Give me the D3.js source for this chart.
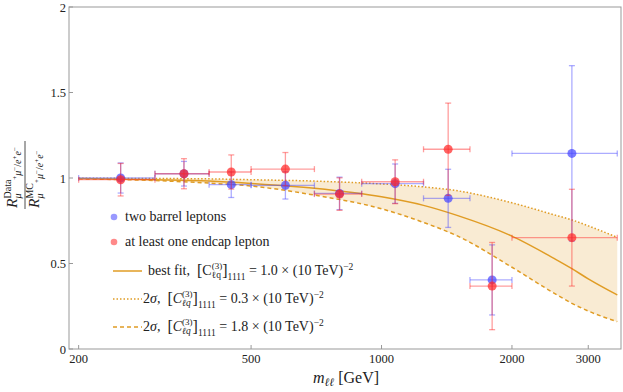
<!DOCTYPE html>
<html>
<head>
<meta charset="utf-8">
<script src="https://cdn.jsdelivr.net/npm/d3@7"></script>
<style>
  body { margin: 0; background: #fff; }
  svg text { font-family: "Liberation Serif", "Times New Roman", "DejaVu Serif", serif; fill: #222; white-space: pre; }
</style>
</head>
<body>
<div id="chart"></div>
<script>
// bins and points
var binLo = [200, 300, 400, 500, 700, 900, 1250, 1600, 2000];
var binHi = [300, 400, 500, 700, 900, 1250, 1600, 2000, 3500];
var mCenter = [250, 350, 450, 600, 800, 1075, 1425, 1800, 2750];

var barrelVal = [1.0, 1.025, 0.961, 0.957, 0.91, 0.967, 0.881, 0.404, 1.144];
var barrelErr = [0.088, 0.072, 0.075, 0.08, 0.095, 0.115, 0.17, 0.205, 0.513];
var endcapVal = [0.99, 1.025, 1.035, 1.052, 0.906, 0.978, 1.168, 0.368, 0.651];
var endcapErr = [0.095, 0.088, 0.1, 0.097, 0.095, 0.128, 0.27, 0.255, 0.283];

// fit curves
var curveM = [200, 300, 400, 500, 700, 1000, 1250, 1500, 2000, 2500, 2750, 3000, 3500];
var bestFit = [0.997, 0.99, 0.982, 0.968, 0.94, 0.89, 0.84, 0.78, 0.66, 0.53, 0.47, 0.41, 0.316];
var upper2s = [0.999, 0.997, 0.995, 0.99, 0.982, 0.965, 0.948, 0.925, 0.855, 0.785, 0.755, 0.72, 0.653];
var lower2s = [0.995, 0.985, 0.97, 0.953, 0.9, 0.82, 0.74, 0.66, 0.478, 0.327, 0.267, 0.222, 0.16];

var xTicks = [200, 500, 1000, 2000, 3000];
var yTicks = [0, 0.5, 1, 1.5, 2];

var width = 623, height = 392;
var pLeft = 69, pRight = 621, pTop = 7, pBottom = 349;
var serif = "Liberation Serif, Times New Roman, DejaVu Serif, serif";

var svg = d3.select("#chart").append("svg")
    .attr("width", width).attr("height", height)
    .attr("font-family", serif);

var x = d3.scaleLog().domain([190, 3570]).range([pLeft, pRight]);
var y = d3.scaleLinear().domain([0, 2]).range([pBottom, pTop]);

var orange = "#e09c24";
var blue = "rgb(70,70,255)";
var red = "rgb(255,40,40)";

// band
var band = d3.area()
    .x(function(d, k) { return x(curveM[k]); })
    .y0(function(d, k) { return y(lower2s[k]); })
    .y1(function(d, k) { return y(upper2s[k]); })
    .curve(d3.curveMonotoneX);
svg.append("path").datum(curveM).attr("d", band)
    .attr("fill", orange).attr("fill-opacity", 0.2);

function drawCurve(vals, dash) {
  var line = d3.line()
      .x(function(d, k) { return x(curveM[k]); })
      .y(function(d) { return y(d); })
      .curve(d3.curveMonotoneX);
  svg.append("path").datum(vals).attr("d", line)
      .attr("fill", "none").attr("stroke", orange)
      .attr("stroke-width", 1.5)
      .attr("stroke-dasharray", dash);
}
drawCurve(upper2s, "1.5,2");
drawCurve(lower2s, "4,3");
drawCurve(bestFit, null);

// error bars + points
function drawSeries(vals, errs, col) {
  var g = svg.append("g");
  var cap = 3;
  for (var t = 0; t < vals.length; t++) {
    var cx = x(mCenter[t]), cy = y(vals[t]);
    var x0 = x(binLo[t]), x1 = x(binHi[t]);
    var yh = y(vals[t] + errs[t]), yl = y(vals[t] - errs[t]);
    var eg = g.append("g").attr("stroke", col).attr("stroke-opacity", 0.45)
        .attr("stroke-width", 1.3);
    eg.append("line").attr("x1", x0).attr("x2", x1).attr("y1", cy).attr("y2", cy);
    eg.append("line").attr("x1", x0).attr("x2", x0).attr("y1", cy - cap).attr("y2", cy + cap);
    eg.append("line").attr("x1", x1).attr("x2", x1).attr("y1", cy - cap).attr("y2", cy + cap);
    eg.append("line").attr("x1", cx).attr("x2", cx).attr("y1", yh).attr("y2", yl);
    eg.append("line").attr("x1", cx - cap).attr("x2", cx + cap).attr("y1", yh).attr("y2", yh);
    eg.append("line").attr("x1", cx - cap).attr("x2", cx + cap).attr("y1", yl).attr("y2", yl);
    g.append("circle").attr("cx", cx).attr("cy", cy).attr("r", 4.5)
        .attr("fill", col).attr("fill-opacity", 0.72);
  }
}
drawSeries(barrelVal, barrelErr, blue);
drawSeries(endcapVal, endcapErr, red);

// frame
svg.append("rect").attr("x", pLeft).attr("y", pTop)
    .attr("width", pRight - pLeft).attr("height", pBottom - pTop)
    .attr("fill", "none").attr("stroke", "#999").attr("stroke-width", 1);

xTicks.forEach(function(v) {
  svg.append("line").attr("x1", x(v)).attr("x2", x(v))
      .attr("y1", pBottom).attr("y2", pBottom - 4).attr("stroke", "#999");
  svg.append("text").attr("x", x(v)).attr("y", pBottom + 14)
      .attr("text-anchor", "middle").attr("font-size", 12.5).text(v);
});
yTicks.forEach(function(v) {
  svg.append("line").attr("x1", pLeft).attr("x2", pLeft + 4)
      .attr("y1", y(v)).attr("y2", y(v)).attr("stroke", "#999");
  svg.append("text").attr("x", pLeft - 3).attr("y", y(v) + 4.5)
      .attr("text-anchor", "end").attr("font-size", 12.5).text(v);
});

// text made of pieces (sub/superscripts)
function mathText(g, x0, y0, segs) {
  var cx = x0, held = 0;
  segs.forEach(function(s) {
    var t = g.append("text").attr("x", cx).attr("y", y0 + (s.dy || 0))
        .attr("font-size", s.size || 13)
        .attr("font-style", s.it ? "italic" : "normal")
        .text(s.t);
    var w = t.node().getComputedTextLength();
    if (s.hold) { held = w; }
    else { cx += Math.max(w, held); held = 0; }
  });
  return cx;
}

// x label
mathText(svg, 313, 383, [
  {t: "m", it: true, size: 16},
  {t: "ℓℓ", it: true, size: 11.5, dy: 3},
  {t: " [GeV]", size: 16}
]);

// y label fraction
var ylab = svg.append("g").attr("transform", "translate(25,175) rotate(-90)");
var sub = [
  {t: "μ", it: true, size: 10, dy: 4},
  {t: "+", size: 7, dy: 0},
  {t: "μ", it: true, size: 10, dy: 4},
  {t: "−", size: 7, dy: 0},
  {t: "/", size: 10, dy: 4},
  {t: "e", it: true, size: 10, dy: 4},
  {t: "+", size: 7, dy: 0},
  {t: "e", it: true, size: 10, dy: 4},
  {t: "−", size: 7, dy: 0}
];
function fracRow(sup) {
  var segs = [{t: "R", it: true, size: 15.5}, {t: sup, size: 10, dy: -6, hold: true}];
  sub.forEach(function(s) { segs.push({t: s.t, it: s.it, size: s.size, dy: s.dy}); });
  return segs;
}
mathText(ylab, -33, -8, fracRow("Data"));
mathText(ylab, -33, 14, fracRow("MC"));
ylab.append("line").attr("x1", -34).attr("x2", 34).attr("y1", 0).attr("y2", 0)
    .attr("stroke", "#222").attr("stroke-width", 0.8);

// legend
var lg = svg.append("g");
lg.append("circle").attr("cx", 114).attr("cy", 217).attr("r", 3.3)
    .attr("fill", blue).attr("fill-opacity", 0.55);
lg.append("text").attr("x", 125).attr("y", 221).attr("font-size", 14).text("two barrel leptons");
lg.append("circle").attr("cx", 114).attr("cy", 242).attr("r", 3.3)
    .attr("fill", red).attr("fill-opacity", 0.55);
lg.append("text").attr("x", 125).attr("y", 246).attr("font-size", 14).text("at least one endcap lepton");

var legendLines = [
  {dash: null, ly: 271, it: false, val: "1.0"},
  {dash: "1.5,2", ly: 299, it: true, val: "0.3"},
  {dash: "4,3", ly: 327, it: true, val: "1.8"}
];
legendLines.forEach(function(e) {
  lg.append("line").attr("x1", 113).attr("x2", 142).attr("y1", e.ly).attr("y2", e.ly)
      .attr("stroke", orange).attr("stroke-width", 1.5).attr("stroke-dasharray", e.dash);
  var tx = e.it ? 143 : 148;
  var segs = [];
  if (e.it) {
    segs.push({t: "2", size: 14});
    segs.push({t: "σ", it: true, size: 14});
    segs.push({t: ",  ", size: 14});
  } else {
    segs.push({t: "best fit,  ", size: 14});
  }
  segs.push({t: "[", size: 16, dy: 1});
  segs.push({t: "C", it: e.it, size: 14});
  segs.push({t: "(3)", size: 9, dy: -6, hold: true});
  segs.push({t: "ℓq", it: e.it, size: 9.5, dy: 3});
  segs.push({t: "]", size: 16, dy: 1});
  segs.push({t: "1111", size: 9.5, dy: 5});
  segs.push({t: " = " + e.val + " × (10 TeV)", size: 14});
  segs.push({t: "−2", size: 9.5, dy: -5});
  mathText(lg, tx, e.ly + 4, segs);
});
</script>
</body>
</html>
